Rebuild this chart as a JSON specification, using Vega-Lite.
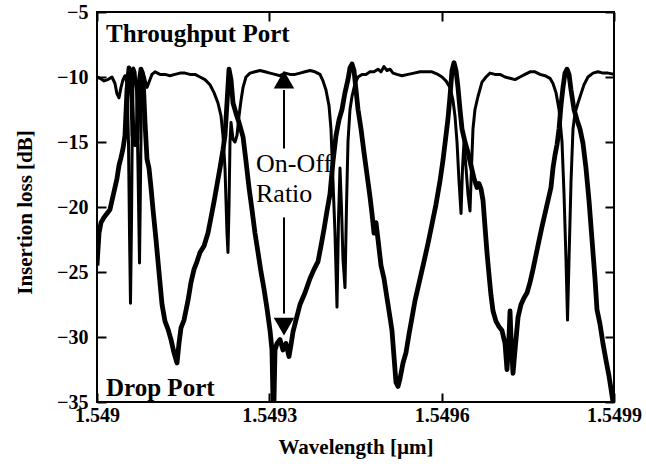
{
  "$schema": "https://vega.github.io/schema/vega-lite/v6.json",
  "width": 517,
  "height": 390,
  "autosize": {"type": "none"},
  "padding": {"left": 97, "top": 12, "right": 32, "bottom": 62},
  "background": "white",
  "config": {
    "font": "Liberation Serif",
    "view": {"stroke": "black", "strokeWidth": 2},
    "axis": {
      "grid": false, "domain": false, "offset": -9,
      "tickColor": "black", "tickWidth": 2, "tickSize": 9,
      "labelColor": "black", "labelFont": "Liberation Serif", "labelFontSize": 20, "labelFontWeight": "bold",
      "titleFont": "Liberation Serif", "titleFontSize": 21, "titleFontWeight": "bold", "titleColor": "black"
    }
  },
  "datasets": {
    "thr": [
      {"w":1.5490000,"v":-10.0},{"w":1.5490052,"v":-10.1},{"w":1.5490122,"v":-10.3},{"w":1.5490191,"v":-10.2},
      {"w":1.5490261,"v":-10.0},{"w":1.5490313,"v":-10.5},{"w":1.5490348,"v":-11.3},{"w":1.5490383,"v":-11.6},
      {"w":1.5490418,"v":-10.8},{"w":1.5490453,"v":-10.2},{"w":1.5490487,"v":-9.9},{"w":1.5490522,"v":-10.5},
      {"w":1.5490548,"v":-15},{"w":1.5490566,"v":-22},{"w":1.5490583,"v":-27.4},{"w":1.5490601,"v":-21},
      {"w":1.5490618,"v":-12},{"w":1.5490635,"v":-9.3},{"w":1.5490662,"v":-9.6},{"w":1.5490688,"v":-11},
      {"w":1.5490714,"v":-17},{"w":1.5490740,"v":-24.3},{"w":1.5490757,"v":-18},{"w":1.5490775,"v":-11},
      {"w":1.5490801,"v":-9.6},{"w":1.5490836,"v":-10.2},{"w":1.5490870,"v":-10.8},{"w":1.5490905,"v":-10.4},
      {"w":1.5490957,"v":-9.8},{"w":1.5491010,"v":-9.6},{"w":1.5491097,"v":-9.8},{"w":1.5491184,"v":-9.8},
      {"w":1.5491271,"v":-9.9},{"w":1.5491358,"v":-9.8},{"w":1.5491445,"v":-9.7},{"w":1.5491532,"v":-9.7},
      {"w":1.5491619,"v":-9.8},{"w":1.5491706,"v":-9.8},{"w":1.5491793,"v":-10.0},{"w":1.5491880,"v":-10.2},
      {"w":1.5491967,"v":-10.6},{"w":1.5492037,"v":-11.2},{"w":1.5492106,"v":-12},{"w":1.5492159,"v":-13},
      {"w":1.5492193,"v":-14.5},{"w":1.5492228,"v":-17},{"w":1.5492263,"v":-22},{"w":1.5492280,"v":-23.5},
      {"w":1.5492298,"v":-20},{"w":1.5492315,"v":-15},{"w":1.5492333,"v":-13.5},{"w":1.5492368,"v":-14.8},
      {"w":1.5492402,"v":-15},{"w":1.5492437,"v":-14.5},{"w":1.5492472,"v":-13},{"w":1.5492507,"v":-11.8},
      {"w":1.5492542,"v":-10.8},{"w":1.5492594,"v":-10.0},{"w":1.5492663,"v":-9.7},{"w":1.5492750,"v":-9.6},
      {"w":1.5492838,"v":-9.5},{"w":1.5492925,"v":-9.6},{"w":1.5493012,"v":-9.7},{"w":1.5493099,"v":-9.8},
      {"w":1.5493186,"v":-9.9},{"w":1.5493273,"v":-9.7},{"w":1.5493360,"v":-9.8},{"w":1.5493447,"v":-9.8},
      {"w":1.5493534,"v":-9.7},{"w":1.5493621,"v":-9.6},{"w":1.5493708,"v":-9.5},{"w":1.5493795,"v":-9.6},
      {"w":1.5493882,"v":-9.8},{"w":1.5493934,"v":-10.3},{"w":1.5493986,"v":-11.0},{"w":1.5494039,"v":-12.2},
      {"w":1.5494073,"v":-14},{"w":1.5494108,"v":-18},{"w":1.5494143,"v":-22},{"w":1.5494178,"v":-27.7},
      {"w":1.5494204,"v":-21},{"w":1.5494230,"v":-17},{"w":1.5494256,"v":-20},{"w":1.5494282,"v":-24},
      {"w":1.5494317,"v":-26.2},{"w":1.5494343,"v":-20},{"w":1.5494369,"v":-15},{"w":1.5494404,"v":-12.5},
      {"w":1.5494439,"v":-11.5},{"w":1.5494491,"v":-10.5},{"w":1.5494544,"v":-10.0},{"w":1.5494613,"v":-9.8},
      {"w":1.5494683,"v":-9.8},{"w":1.5494752,"v":-9.6},{"w":1.5494822,"v":-9.6},{"w":1.5494892,"v":-9.4},
      {"w":1.5494944,"v":-9.6},{"w":1.5494996,"v":-9.2},{"w":1.5495048,"v":-9.5},{"w":1.5495101,"v":-9.4},
      {"w":1.5495153,"v":-9.7},{"w":1.5495222,"v":-9.8},{"w":1.5495309,"v":-9.9},{"w":1.5495414,"v":-9.8},
      {"w":1.5495518,"v":-9.7},{"w":1.5495623,"v":-9.6},{"w":1.5495727,"v":-9.6},{"w":1.5495832,"v":-9.6},
      {"w":1.5495936,"v":-9.8},{"w":1.5496006,"v":-10.0},{"w":1.5496075,"v":-10.3},{"w":1.5496145,"v":-10.8},
      {"w":1.5496197,"v":-11.8},{"w":1.5496232,"v":-13},{"w":1.5496267,"v":-15},{"w":1.5496302,"v":-18},
      {"w":1.5496337,"v":-20.5},{"w":1.5496363,"v":-17},{"w":1.5496389,"v":-15},{"w":1.5496424,"v":-17},
      {"w":1.5496458,"v":-19},{"w":1.5496493,"v":-20.3},{"w":1.5496519,"v":-17},{"w":1.5496545,"v":-14},
      {"w":1.5496580,"v":-12.5},{"w":1.5496632,"v":-11.5},{"w":1.5496702,"v":-10.4},{"w":1.5496772,"v":-10.0},
      {"w":1.5496841,"v":-9.7},{"w":1.5496928,"v":-9.8},{"w":1.5497015,"v":-9.8},{"w":1.5497103,"v":-10.0},
      {"w":1.5497190,"v":-10.1},{"w":1.5497277,"v":-10.2},{"w":1.5497364,"v":-10.0},{"w":1.5497451,"v":-9.8},
      {"w":1.5497538,"v":-9.6},{"w":1.5497625,"v":-9.6},{"w":1.5497712,"v":-9.8},{"w":1.5497799,"v":-9.9},
      {"w":1.5497886,"v":-10.1},{"w":1.5497938,"v":-10.5},{"w":1.5497990,"v":-11.2},{"w":1.5498043,"v":-12.5},
      {"w":1.5498095,"v":-15},{"w":1.5498130,"v":-19},{"w":1.5498164,"v":-24},{"w":1.5498191,"v":-28.7},
      {"w":1.5498217,"v":-24},{"w":1.5498252,"v":-18},{"w":1.5498286,"v":-14},{"w":1.5498321,"v":-12.8},
      {"w":1.5498373,"v":-12},{"w":1.5498425,"v":-11.3},{"w":1.5498478,"v":-10.6},{"w":1.5498547,"v":-10.0},
      {"w":1.5498634,"v":-9.7},{"w":1.5498721,"v":-9.6},{"w":1.5498808,"v":-9.7},{"w":1.5498896,"v":-9.7},
      {"w":1.5499000,"v":-9.8}
    ],
    "drop": [
      {"w":1.5490000,"v":-24.5},{"w":1.5490035,"v":-22},{"w":1.5490070,"v":-21.2},{"w":1.5490122,"v":-20.8},
      {"w":1.5490174,"v":-20.5},{"w":1.5490226,"v":-20.2},{"w":1.5490261,"v":-19.5},{"w":1.5490313,"v":-18.5},
      {"w":1.5490348,"v":-17.8},{"w":1.5490383,"v":-16.8},{"w":1.5490418,"v":-16.2},{"w":1.5490453,"v":-15.5},
      {"w":1.5490487,"v":-14.5},{"w":1.5490522,"v":-11},{"w":1.5490557,"v":-9.3},{"w":1.5490592,"v":-9.6},
      {"w":1.5490627,"v":-14.5},{"w":1.5490662,"v":-15.2},{"w":1.5490696,"v":-14.8},{"w":1.5490731,"v":-10.5},
      {"w":1.5490766,"v":-9.4},{"w":1.5490801,"v":-10},{"w":1.5490836,"v":-13.5},{"w":1.5490870,"v":-16.3},
      {"w":1.5490905,"v":-17.0},{"w":1.5490940,"v":-18.5},{"w":1.5490975,"v":-20.2},{"w":1.5491027,"v":-22.5},
      {"w":1.5491079,"v":-25},{"w":1.5491132,"v":-27.5},{"w":1.5491184,"v":-28.8},{"w":1.5491236,"v":-29.4},
      {"w":1.5491288,"v":-30.2},{"w":1.5491340,"v":-31.2},{"w":1.5491393,"v":-32.0},{"w":1.5491427,"v":-30.5},
      {"w":1.5491462,"v":-29.3},{"w":1.5491515,"v":-28.7},{"w":1.5491584,"v":-27.2},{"w":1.5491636,"v":-25.8},
      {"w":1.5491689,"v":-24.8},{"w":1.5491741,"v":-24.2},{"w":1.5491793,"v":-23.5},{"w":1.5491863,"v":-23.0},
      {"w":1.5491932,"v":-22.0},{"w":1.5491985,"v":-20.8},{"w":1.5492037,"v":-19.6},{"w":1.5492089,"v":-18.3},
      {"w":1.5492141,"v":-17.0},{"w":1.5492193,"v":-15.6},{"w":1.5492228,"v":-14.5},{"w":1.5492263,"v":-12},
      {"w":1.5492298,"v":-9.4},{"w":1.5492333,"v":-10.2},{"w":1.5492368,"v":-12},{"w":1.5492420,"v":-12.8},
      {"w":1.5492472,"v":-13.5},{"w":1.5492542,"v":-14.6},{"w":1.5492594,"v":-16.5},{"w":1.5492646,"v":-18.5},
      {"w":1.5492698,"v":-20.2},{"w":1.5492750,"v":-22},{"w":1.5492803,"v":-23.5},{"w":1.5492855,"v":-25},
      {"w":1.5492907,"v":-26.3},{"w":1.5492959,"v":-27.8},{"w":1.5493012,"v":-29.5},{"w":1.5493046,"v":-31},
      {"w":1.5493064,"v":-35},{"w":1.5493081,"v":-35},{"w":1.5493099,"v":-31},{"w":1.5493133,"v":-30.5},
      {"w":1.5493186,"v":-30.2},{"w":1.5493238,"v":-31},{"w":1.5493290,"v":-30.5},{"w":1.5493342,"v":-31.5},
      {"w":1.5493377,"v":-30.6},{"w":1.5493412,"v":-29.6},{"w":1.5493464,"v":-28.7},{"w":1.5493534,"v":-27.5},
      {"w":1.5493621,"v":-26.6},{"w":1.5493708,"v":-25.5},{"w":1.5493778,"v":-24.8},{"w":1.5493847,"v":-24.2},
      {"w":1.5493899,"v":-23},{"w":1.5493952,"v":-21.7},{"w":1.5494004,"v":-20.3},{"w":1.5494056,"v":-19.0},
      {"w":1.5494108,"v":-16.5},{"w":1.5494161,"v":-14.5},{"w":1.5494213,"v":-13.3},{"w":1.5494265,"v":-12.5},
      {"w":1.5494317,"v":-11.2},{"w":1.5494369,"v":-10.2},{"w":1.5494404,"v":-9.3},{"w":1.5494439,"v":-9.0},
      {"w":1.5494474,"v":-9.5},{"w":1.5494509,"v":-11},{"w":1.5494544,"v":-12.5},{"w":1.5494596,"v":-14},
      {"w":1.5494648,"v":-15.8},{"w":1.5494700,"v":-17.5},{"w":1.5494752,"v":-19.2},{"w":1.5494787,"v":-20.5},
      {"w":1.5494822,"v":-22},{"w":1.5494857,"v":-21.2},{"w":1.5494892,"v":-22.5},{"w":1.5494944,"v":-24.5},
      {"w":1.5494996,"v":-25.5},{"w":1.5495048,"v":-27},{"w":1.5495101,"v":-28.5},{"w":1.5495135,"v":-29.5},
      {"w":1.5495170,"v":-31.5},{"w":1.5495205,"v":-33.5},{"w":1.5495240,"v":-33.8},{"w":1.5495275,"v":-33.2},
      {"w":1.5495327,"v":-32},{"w":1.5495379,"v":-31.2},{"w":1.5495431,"v":-29.8},{"w":1.5495484,"v":-28.5},
      {"w":1.5495536,"v":-27.2},{"w":1.5495588,"v":-26.2},{"w":1.5495640,"v":-25.2},{"w":1.5495692,"v":-24.2},
      {"w":1.5495762,"v":-22.8},{"w":1.5495832,"v":-21.3},{"w":1.5495901,"v":-19.8},{"w":1.5495971,"v":-18.0},
      {"w":1.5496023,"v":-16.4},{"w":1.5496075,"v":-14.5},{"w":1.5496110,"v":-13.2},{"w":1.5496145,"v":-11.5},
      {"w":1.5496180,"v":-9.5},{"w":1.5496215,"v":-8.9},{"w":1.5496250,"v":-9.5},{"w":1.5496284,"v":-10.8},
      {"w":1.5496319,"v":-12.5},{"w":1.5496354,"v":-14},{"w":1.5496406,"v":-15},{"w":1.5496458,"v":-15.8},
      {"w":1.5496510,"v":-16.8},{"w":1.5496563,"v":-17.8},{"w":1.5496615,"v":-18.5},{"w":1.5496650,"v":-18.2},
      {"w":1.5496685,"v":-18.6},{"w":1.5496720,"v":-19.5},{"w":1.5496754,"v":-21.5},{"w":1.5496789,"v":-23.5},
      {"w":1.5496824,"v":-25.2},{"w":1.5496859,"v":-26.8},{"w":1.5496894,"v":-28},{"w":1.5496946,"v":-28.8},
      {"w":1.5496998,"v":-29.2},{"w":1.5497050,"v":-29.5},{"w":1.5497103,"v":-30.5},{"w":1.5497137,"v":-32.5},
      {"w":1.5497172,"v":-30},{"w":1.5497190,"v":-28},{"w":1.5497207,"v":-30},{"w":1.5497242,"v":-32.8},
      {"w":1.5497277,"v":-31},{"w":1.5497329,"v":-28.5},{"w":1.5497381,"v":-27.5},{"w":1.5497433,"v":-27.0},
      {"w":1.5497486,"v":-26.6},{"w":1.5497538,"v":-25.8},{"w":1.5497590,"v":-24.8},{"w":1.5497642,"v":-23.7},
      {"w":1.5497694,"v":-22.6},{"w":1.5497747,"v":-21.5},{"w":1.5497799,"v":-20.5},{"w":1.5497851,"v":-19.5},
      {"w":1.5497903,"v":-18.5},{"w":1.5497938,"v":-17},{"w":1.5497973,"v":-16.0},{"w":1.5498008,"v":-15.2},
      {"w":1.5498043,"v":-14},{"w":1.5498077,"v":-12.2},{"w":1.5498112,"v":-10.8},{"w":1.5498147,"v":-9.7},
      {"w":1.5498182,"v":-9.4},{"w":1.5498217,"v":-9.8},{"w":1.5498252,"v":-11},{"w":1.5498304,"v":-12.5},
      {"w":1.5498356,"v":-13.3},{"w":1.5498408,"v":-14},{"w":1.5498460,"v":-15.1},{"w":1.5498512,"v":-17},
      {"w":1.5498565,"v":-19.5},{"w":1.5498617,"v":-22.5},{"w":1.5498669,"v":-25.5},{"w":1.5498704,"v":-27.9},
      {"w":1.5498756,"v":-29},{"w":1.5498808,"v":-30.5},{"w":1.5498861,"v":-31.8},{"w":1.5498913,"v":-33},
      {"w":1.5498948,"v":-34},{"w":1.5498983,"v":-35}
    ],
    "boldLabels": [
      {"w":1.5490157,"v":-7.3,"t":"Throughput Port"},
      {"w":1.5490157,"v":-34.5,"t":"Drop Port"}
    ],
    "plainLabels": [
      {"w":1.5492768,"v":-17.3,"t":"On-Off"},
      {"w":1.5492768,"v":-19.6,"t":"Ratio"}
    ],
    "shafts": [
      {"w":1.5493255,"v":-11,"v2":-15.5},
      {"w":1.5493255,"v":-20.8,"v2":-28.2}
    ],
    "heads": [
      {"w":1.5493255,"v":-10.2,"shape":"triangle-up"},
      {"w":1.5493255,"v":-29.2,"shape":"triangle-down"}
    ]
  },
  "resolve": {"axis": {"x": "independent", "y": "independent"}},
  "layer": [
    {
      "data": {"name": "boldLabels"},
      "mark": {"type": "text", "align": "left", "baseline": "alphabetic", "font": "Liberation Serif", "fontWeight": "bold", "fontSize": 25, "color": "black"},
      "encoding": {
        "x": {"field": "w", "type": "quantitative", "axis": null},
        "y": {"field": "v", "type": "quantitative", "axis": null},
        "text": {"field": "t"}
      }
    },
    {
      "data": {"name": "plainLabels"},
      "mark": {"type": "text", "align": "left", "baseline": "alphabetic", "font": "Liberation Serif", "fontSize": 26, "color": "black"},
      "encoding": {
        "x": {"field": "w", "type": "quantitative", "axis": null},
        "y": {"field": "v", "type": "quantitative", "axis": null},
        "text": {"field": "t"}
      }
    },
    {
      "data": {"name": "shafts"},
      "mark": {"type": "rule", "color": "black", "strokeWidth": 2},
      "encoding": {
        "x": {"field": "w", "type": "quantitative", "axis": null},
        "y": {"field": "v", "type": "quantitative", "axis": null},
        "y2": {"field": "v2"}
      }
    },
    {
      "data": {"name": "heads"},
      "mark": {"type": "point", "filled": true, "color": "black", "size": 420, "opacity": 1},
      "encoding": {
        "x": {"field": "w", "type": "quantitative", "axis": null},
        "y": {"field": "v", "type": "quantitative", "axis": null},
        "shape": {"field": "shape", "type": "nominal", "scale": null, "legend": null}
      }
    },
    {
      "data": {"name": "thr"},
      "mark": {"type": "line", "color": "black", "strokeWidth": 3, "clip": true, "strokeJoin": "round"},
      "encoding": {
        "x": {"field": "w", "type": "quantitative",
              "scale": {"domain": [1.549, 1.5499], "nice": false, "zero": false},
              "axis": {"orient": "bottom", "values": [1.549, 1.5493, 1.5496, 1.5499], "format": ".4~f", "labelPadding": 3, "labelFlush": false,
                       "title": "Wavelength [µm]", "titleX": 258.5, "titleY": 60, "titleAlign": "center", "titleBaseline": "alphabetic"}},
        "y": {"field": "v", "type": "quantitative",
              "scale": {"domain": [-35, -5], "nice": false, "zero": false},
              "axis": {"orient": "left", "values": [-35, -30, -25, -20, -15, -10, -5], "labelPadding": 9, "labelFlush": false,
                       "title": "Insertion loss [dB]", "titleX": -81, "titleY": 200, "titleAngle": 270, "titleAlign": "center", "titleBaseline": "middle"}}
      }
    },
    {
      "data": {"name": "drop"},
      "mark": {"type": "line", "color": "black", "strokeWidth": 4.8, "clip": true, "strokeJoin": "round"},
      "encoding": {
        "x": {"field": "w", "type": "quantitative",
              "scale": {"domain": [1.549, 1.5499], "nice": false, "zero": false},
              "axis": {"orient": "top", "values": [1.549, 1.5493, 1.5496, 1.5499], "labels": false, "title": null}},
        "y": {"field": "v", "type": "quantitative",
              "scale": {"domain": [-35, -5], "nice": false, "zero": false},
              "axis": {"orient": "right", "values": [-35, -30, -25, -20, -15, -10, -5], "labels": false, "title": null}}
      }
    }
  ]
}
